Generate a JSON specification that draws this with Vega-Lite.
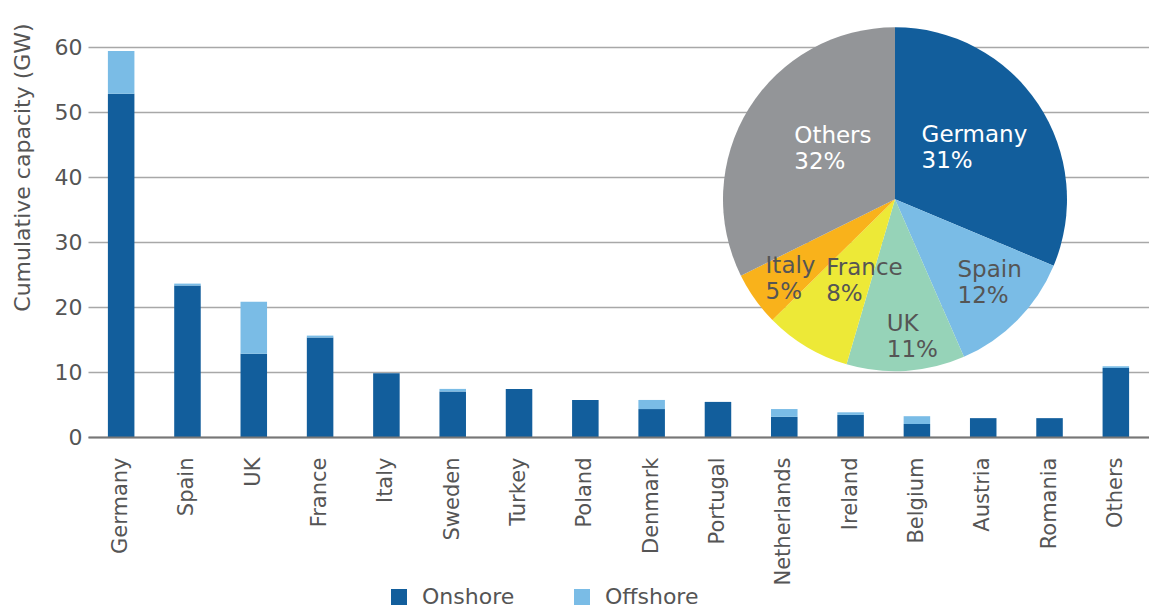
{
  "$schema": "https://vega.github.io/schema/vega-lite/v6.json",
  "width": 1061,
  "height": 390,
  "autosize": "none",
  "padding": {"left": 88, "top": 47, "right": 0, "bottom": 174},
  "background": "white",
  "config": {"view": {"stroke": null}, "font": "DejaVu Sans"},
  "datasets": {
    "bars": [
      {"country": "Germany", "type": "Onshore", "gw": 52.8},
      {"country": "Germany", "type": "Offshore", "gw": 6.6},
      {"country": "Spain", "type": "Onshore", "gw": 23.3},
      {"country": "Spain", "type": "Offshore", "gw": 0.3},
      {"country": "UK", "type": "Onshore", "gw": 12.8},
      {"country": "UK", "type": "Offshore", "gw": 8.0},
      {"country": "France", "type": "Onshore", "gw": 15.3},
      {"country": "France", "type": "Offshore", "gw": 0.3},
      {"country": "Italy", "type": "Onshore", "gw": 9.8},
      {"country": "Italy", "type": "Offshore", "gw": 0.0},
      {"country": "Sweden", "type": "Onshore", "gw": 7.0},
      {"country": "Sweden", "type": "Offshore", "gw": 0.4},
      {"country": "Turkey", "type": "Onshore", "gw": 7.4},
      {"country": "Turkey", "type": "Offshore", "gw": 0.0},
      {"country": "Poland", "type": "Onshore", "gw": 5.7},
      {"country": "Poland", "type": "Offshore", "gw": 0.0},
      {"country": "Denmark", "type": "Onshore", "gw": 4.3},
      {"country": "Denmark", "type": "Offshore", "gw": 1.4},
      {"country": "Portugal", "type": "Onshore", "gw": 5.4},
      {"country": "Portugal", "type": "Offshore", "gw": 0.0},
      {"country": "Netherlands", "type": "Onshore", "gw": 3.1},
      {"country": "Netherlands", "type": "Offshore", "gw": 1.2},
      {"country": "Ireland", "type": "Onshore", "gw": 3.4},
      {"country": "Ireland", "type": "Offshore", "gw": 0.4},
      {"country": "Belgium", "type": "Onshore", "gw": 2.0},
      {"country": "Belgium", "type": "Offshore", "gw": 1.2},
      {"country": "Austria", "type": "Onshore", "gw": 2.9},
      {"country": "Austria", "type": "Offshore", "gw": 0.0},
      {"country": "Romania", "type": "Onshore", "gw": 2.9},
      {"country": "Romania", "type": "Offshore", "gw": 0.0},
      {"country": "Others", "type": "Onshore", "gw": 10.6},
      {"country": "Others", "type": "Offshore", "gw": 0.3}
    ],
    "pie": [
      {"region": "Germany", "share": 31, "rank": 1, "pct": "31%"},
      {"region": "Spain", "share": 12, "rank": 2, "pct": "12%"},
      {"region": "UK", "share": 11, "rank": 3, "pct": "11%"},
      {"region": "France", "share": 8, "rank": 4, "pct": "8%"},
      {"region": "Italy", "share": 5, "rank": 5, "pct": "5%"},
      {"region": "Others", "share": 32, "rank": 6, "pct": "32%"}
    ]
  },
  "resolve": {"scale": {"color": "independent", "theta": "independent"}},
  "layer": [
    {
      "data": {"name": "bars"},
      "mark": {"type": "bar"},
      "encoding": {
        "x": {
          "field": "country",
          "type": "nominal",
          "sort": ["Germany", "Spain", "UK", "France", "Italy", "Sweden", "Turkey", "Poland", "Denmark", "Portugal", "Netherlands", "Ireland", "Belgium", "Austria", "Romania", "Others"],
          "scale": {"paddingInner": 0.6, "paddingOuter": 0.3},
          "axis": {
            "title": null,
            "labelAngle": -90,
            "labelFontSize": 21,
            "labelColor": "#555555",
            "labelPadding": 20,
            "ticks": false,
            "domain": true,
            "domainColor": "#777777",
            "domainWidth": 2,
            "zindex": 1
          }
        },
        "y": {
          "field": "gw",
          "type": "quantitative",
          "scale": {"domain": [0, 60], "nice": false},
          "axis": {
            "title": "Cumulative capacity (GW)",
            "titleFontSize": 22,
            "titleFontWeight": "normal",
            "titleColor": "#555555",
            "titleY": 120,
            "titlePadding": 20,
            "values": [0, 10, 20, 30, 40, 50, 60],
            "labelFontSize": 22,
            "labelColor": "#555555",
            "labelPadding": 6,
            "ticks": false,
            "domain": false,
            "grid": true,
            "gridColor": "#a8a8a8",
            "gridWidth": 1.5
          }
        },
        "color": {
          "field": "type",
          "type": "nominal",
          "scale": {"domain": ["Onshore", "Offshore"], "range": ["#125e9c", "#7abce6"]},
          "legend": {
            "title": null,
            "orient": "none",
            "legendX": 300,
            "legendY": 539,
            "direction": "horizontal",
            "symbolType": "square",
            "symbolSize": 256,
            "symbolStrokeWidth": 0,
            "symbolOpacity": 1,
            "labelFontSize": 22,
            "labelColor": "#555555",
            "labelOffset": 12,
            "columnPadding": 56
          }
        },
        "order": {"field": "type", "sort": "descending"}
      }
    },
    {
      "data": {"name": "pie"},
      "encoding": {
        "theta": {"field": "share", "type": "quantitative", "stack": true},
        "order": {"field": "rank"},
        "detail": {"field": "region"}
      },
      "layer": [
        {
          "mark": {"type": "arc", "outerRadius": 172, "x": {"expr": "width * 0.7606"}, "y": {"expr": "height * 0.3905"}},
          "encoding": {
            "color": {
              "field": "region",
              "type": "nominal",
              "scale": {"domain": ["Germany", "Spain", "UK", "France", "Italy", "Others"], "range": ["#125e9c", "#7abce6", "#96d3b8", "#ede937", "#f9b21b", "#939598"]},
              "legend": null
            }
          }
        },
        {
          "mark": {"type": "text", "align": "left", "radius": 92, "dx": -50, "dy": -13, "fontSize": 23, "color": "#ffffff", "x": {"expr": "width * 0.7606"}, "y": {"expr": "height * 0.3905"}},
          "encoding": {"text": {"condition": {"test": "datum.region === 'Germany'", "field": "region"}, "value": ""}}
        },
        {
          "mark": {"type": "text", "align": "left", "radius": 92, "dx": -50, "dy": 13, "fontSize": 23, "color": "#ffffff", "x": {"expr": "width * 0.7606"}, "y": {"expr": "height * 0.3905"}},
          "encoding": {"text": {"condition": {"test": "datum.region === 'Germany'", "field": "pct"}, "value": ""}}
        },
        {
          "mark": {"type": "text", "align": "left", "radius": 95, "dx": -20, "dy": -13, "fontSize": 23, "x": {"expr": "width * 0.7606"}, "y": {"expr": "height * 0.3905"}},
          "encoding": {
            "text": {"condition": {"test": "datum.region === 'Others' || datum.region === 'France'", "field": "region"}, "value": ""},
            "color": {"condition": {"test": "datum.region === 'France'", "value": "#555555"}, "value": "#ffffff"}
          }
        },
        {
          "mark": {"type": "text", "align": "left", "radius": 95, "dx": -20, "dy": 13, "fontSize": 23, "x": {"expr": "width * 0.7606"}, "y": {"expr": "height * 0.3905"}},
          "encoding": {
            "text": {"condition": {"test": "datum.region === 'Others' || datum.region === 'France'", "field": "pct"}, "value": ""},
            "color": {"condition": {"test": "datum.region === 'France'", "value": "#555555"}, "value": "#ffffff"}
          }
        },
        {
          "mark": {"type": "text", "align": "left", "radius": 120, "dx": -23, "dy": -13, "fontSize": 23, "color": "#555555", "x": {"expr": "width * 0.7606"}, "y": {"expr": "height * 0.3905"}},
          "encoding": {"text": {"condition": {"test": "datum.region === 'Spain'", "field": "region"}, "value": ""}}
        },
        {
          "mark": {"type": "text", "align": "left", "radius": 120, "dx": -23, "dy": 13, "fontSize": 23, "color": "#555555", "x": {"expr": "width * 0.7606"}, "y": {"expr": "height * 0.3905"}},
          "encoding": {"text": {"condition": {"test": "datum.region === 'Spain'", "field": "pct"}, "value": ""}}
        },
        {
          "mark": {"type": "text", "align": "left", "radius": 138, "dx": -17, "dy": -13, "fontSize": 23, "color": "#555555", "x": {"expr": "width * 0.7606"}, "y": {"expr": "height * 0.3905"}},
          "encoding": {"text": {"condition": {"test": "datum.region === 'UK' || datum.region === 'Italy'", "field": "region"}, "value": ""}}
        },
        {
          "mark": {"type": "text", "align": "left", "radius": 138, "dx": -17, "dy": 13, "fontSize": 23, "color": "#555555", "x": {"expr": "width * 0.7606"}, "y": {"expr": "height * 0.3905"}},
          "encoding": {"text": {"condition": {"test": "datum.region === 'UK' || datum.region === 'Italy'", "field": "pct"}, "value": ""}}
        }
      ]
    }
  ]
}
